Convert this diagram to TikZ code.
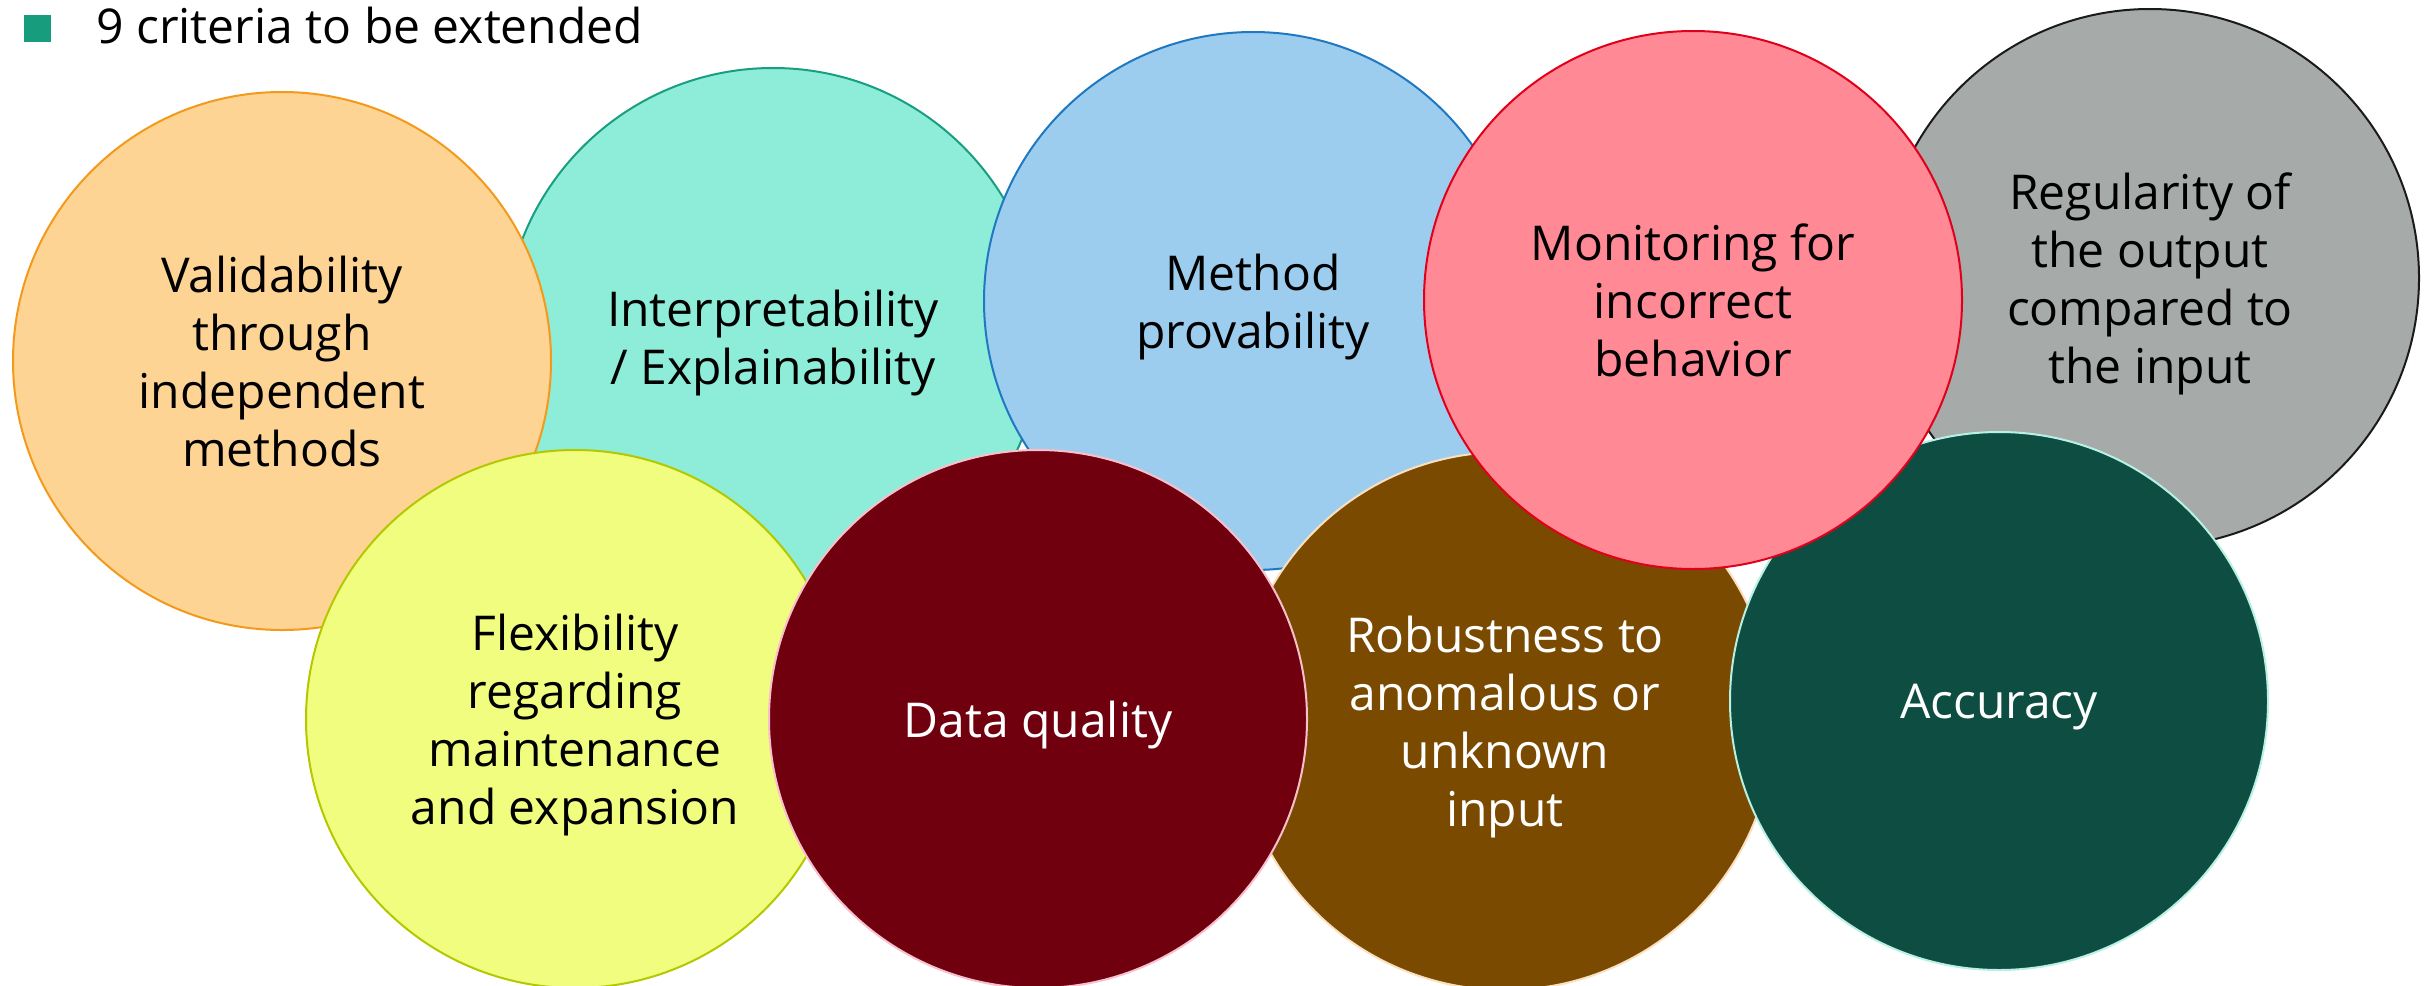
\documentclass[tikz,border=0pt]{standalone}
\usepackage{fontspec}
\setmainfont{Open Sans}
\definecolor{cOrF}{HTML}{FDD494}
\definecolor{cOrD}{HTML}{F39A1C}
\definecolor{cTeF}{HTML}{8DEDD8}
\definecolor{cTeD}{HTML}{1A9E80}
\definecolor{cBlF}{HTML}{9DCDEE}
\definecolor{cBlD}{HTML}{1F78C0}
\definecolor{cGrF}{HTML}{A6ABAA}
\definecolor{cGrD}{HTML}{1A1A1A}
\definecolor{cRdF}{HTML}{FF8A96}
\definecolor{cRdD}{HTML}{E0001A}
\definecolor{cYeF}{HTML}{F0FD7E}
\definecolor{cYeD}{HTML}{B4C800}
\definecolor{cDrF}{HTML}{70000E}
\definecolor{cDrD}{HTML}{F8C0CC}
\definecolor{cBrF}{HTML}{7A4A00}
\definecolor{cBrD}{HTML}{F8E0C0}
\definecolor{cGnF}{HTML}{0E4E42}
\definecolor{cGnD}{HTML}{B8F0E4}
\definecolor{cHead}{HTML}{179C7D}
\tikzset{
  crit/.style={circle, minimum size=269pt, inner sep=0pt, line width=1pt, align=center,
    text depth=0pt, font=\fontsize{24pt}{29pt}\selectfont},
}
\begin{document}
\begin{tikzpicture}[x=0.5pt,y=-0.5pt]
\useasboundingbox (0,0) rectangle (2425,985);
\node[fill=cHead, minimum size=13.5pt, inner sep=0pt] (bullet) at (37,28) {};
\node[anchor=base west, inner sep=0pt, font=\fontsize{24pt}{29pt}\selectfont] (head) at (96,43) {9 criteria to be extended};
\node[crit, fill=cTeF, draw=cTeD] (interp) at (773,337) {Interpretability\\/ Explainability};
\node[crit, fill=cBlF, draw=cBlD] (prov) at (1253,301) {Method\\provability};
\node[crit, fill=cGrF, draw=cGrD] (regul) at (2150,278) {Regularity of\\the output\\compared to\\the input};
\node[crit, fill=cOrF, draw=cOrD] (valid) at (282,361) {Validability\\through\\independent\\methods};
\node[crit, fill=cBrF, draw=cBrD, text=white] (robust) at (1505,721) {Robustness to\\anomalous or\\unknown\\input};
\node[crit, fill=cYeF, draw=cYeD] (flex) at (575,719) {Flexibility\\regarding\\maintenance\\and expansion};
\node[crit, fill=cDrF, draw=cDrD, text=white] (data) at (1038,719) {Data quality};
\node[crit, fill=cGnF, draw=cGnD, text=white] (acc) at (1999,701) {Accuracy};
\node[crit, fill=cRdF, draw=cRdD] (monit) at (1693,300) {Monitoring for\\incorrect\\behavior};
\end{tikzpicture}
\end{document}
